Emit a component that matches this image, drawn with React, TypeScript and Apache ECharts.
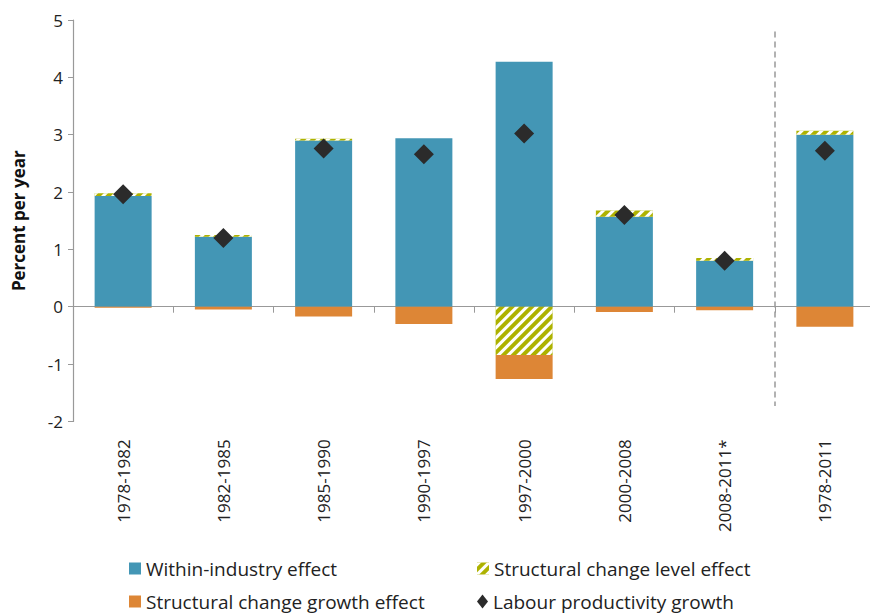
import React, { useEffect, useRef } from "react";
import * as echarts from "echarts";

const categories = ["1978-1982", "1982-1985", "1985-1990", "1990-1997", "1997-2000", "2000-2008", "2008-2011*", "1978-2011"];
const withinIndustry = [1.93, 1.22, 2.9, 2.94, 4.27, 1.57, 0.8, 3.0];
const structuralLevel = [0.05, 0.03, 0.03, 0, -0.84, 0.11, 0.05, 0.07];
const structuralGrowth = [-0.02, -0.05, -0.17, -0.3, -0.42, -0.09, -0.06, -0.35];
const labourProductivity = [1.96, 1.2, 2.76, 2.66, 3.02, 1.6, 0.8, 2.72];
const yTicks = { min: -2, max: 5, interval: 1 };
const separator = { x: 7, top: 4.8, bottom: -1.73 };

const BLUE = "#4396B5";
const GREEN = "#ADB200";
const ORANGE = "#DD8636";
const DARK = "#2B2B2B";
const FONT = "'Open Sans', Lato, sans-serif";

const hatch = {
  color: "#ffffff",
  dashArrayX: [1, 0],
  dashArrayY: [3, 4],
  rotation: -Math.PI / 4,
  symbolSize: 1,
};

export default function App() {
  const ref = useRef<HTMLDivElement>(null);
  useEffect(() => {
    document.body.style.margin = "0";
    if (!ref.current) return;
    const chart = echarts.init(ref.current, undefined, { renderer: "svg" });
    const legendText = { fontFamily: FONT, fontSize: 19, color: "#222" };
    const legendBase = {
      orient: "horizontal" as const,
      itemWidth: 12,
      itemHeight: 12,
      textStyle: legendText,
      selectedMode: false,
    };
    chart.setOption({
      animation: false,
      textStyle: { fontFamily: FONT },
      grid: { left: 73, top: 20, width: 802, height: 401.4, outerBoundsMode: "none", containLabel: false },
      legend: [
        { ...legendBase, left: 124, top: 554, data: [{ name: "Within-industry effect", icon: "rect" }] },
        { ...legendBase, left: 472, top: 554, data: [{ name: "Structural change level effect", icon: "rect" }] },
        { ...legendBase, left: 124, top: 587, data: [{ name: "Structural change growth effect", icon: "rect" }] },
        { ...legendBase, left: 472, top: 587, itemWidth: 11, itemHeight: 14, data: [{ name: "Labour productivity growth", icon: "diamond" }] },
      ],
      xAxis: [
        {
          type: "category",
          data: categories,
          axisLine: { onZero: true, lineStyle: { color: "#999", width: 1.2 } },
          axisTick: { show: true, alignWithLabel: false, length: 6, lineStyle: { color: "#999" } },
          axisLabel: { rotate: 90, margin: 18, fontSize: 17, color: "#222", fontFamily: FONT },
        },
        { type: "value", min: 0, max: 8, show: false },
      ],
      yAxis: {
        type: "value",
        min: yTicks.min,
        max: yTicks.max,
        interval: yTicks.interval,
        name: "Percent per year",
        nameLocation: "middle",
        nameGap: 46,
        nameTextStyle: { fontSize: 17, fontWeight: "bold", color: "#111", fontFamily: FONT },
        axisLine: { show: true, lineStyle: { color: "#999", width: 1.2 } },
        axisTick: { show: true, length: 5, lineStyle: { color: "#999" } },
        axisLabel: { fontSize: 17, color: "#222", margin: 10, fontFamily: FONT },
        splitLine: { show: false },
      },
      series: [
        {
          name: "Within-industry effect",
          type: "bar",
          stack: "s",
          barWidth: 57,
          data: withinIndustry,
          itemStyle: { color: BLUE },
        },
        {
          name: "Structural change level effect",
          type: "bar",
          stack: "s",
          barWidth: 57,
          data: structuralLevel,
          itemStyle: { color: GREEN, decal: hatch },
        },
        {
          name: "Structural change growth effect",
          type: "bar",
          stack: "s",
          barWidth: 57,
          data: structuralGrowth,
          itemStyle: { color: ORANGE },
        },
        {
          name: "Labour productivity growth",
          type: "scatter",
          symbol: "diamond",
          symbolSize: [20, 20],
          data: labourProductivity,
          itemStyle: { color: DARK, opacity: 1 },
          z: 5,
        },
        {
          name: "separator",
          type: "line",
          xAxisIndex: 1,
          data: [],
          markLine: {
            silent: true,
            symbol: "none",
            label: { show: false },
            lineStyle: { color: "#999", type: [6, 4], width: 1.5 },
            data: [[{ coord: [separator.x, separator.top] }, { coord: [separator.x, separator.bottom] }]],
          },
        },
      ],
    });
    return () => chart.dispose();
  }, []);
  return <div ref={ref} style={{ width: 870, height: 614 }} />;
}
